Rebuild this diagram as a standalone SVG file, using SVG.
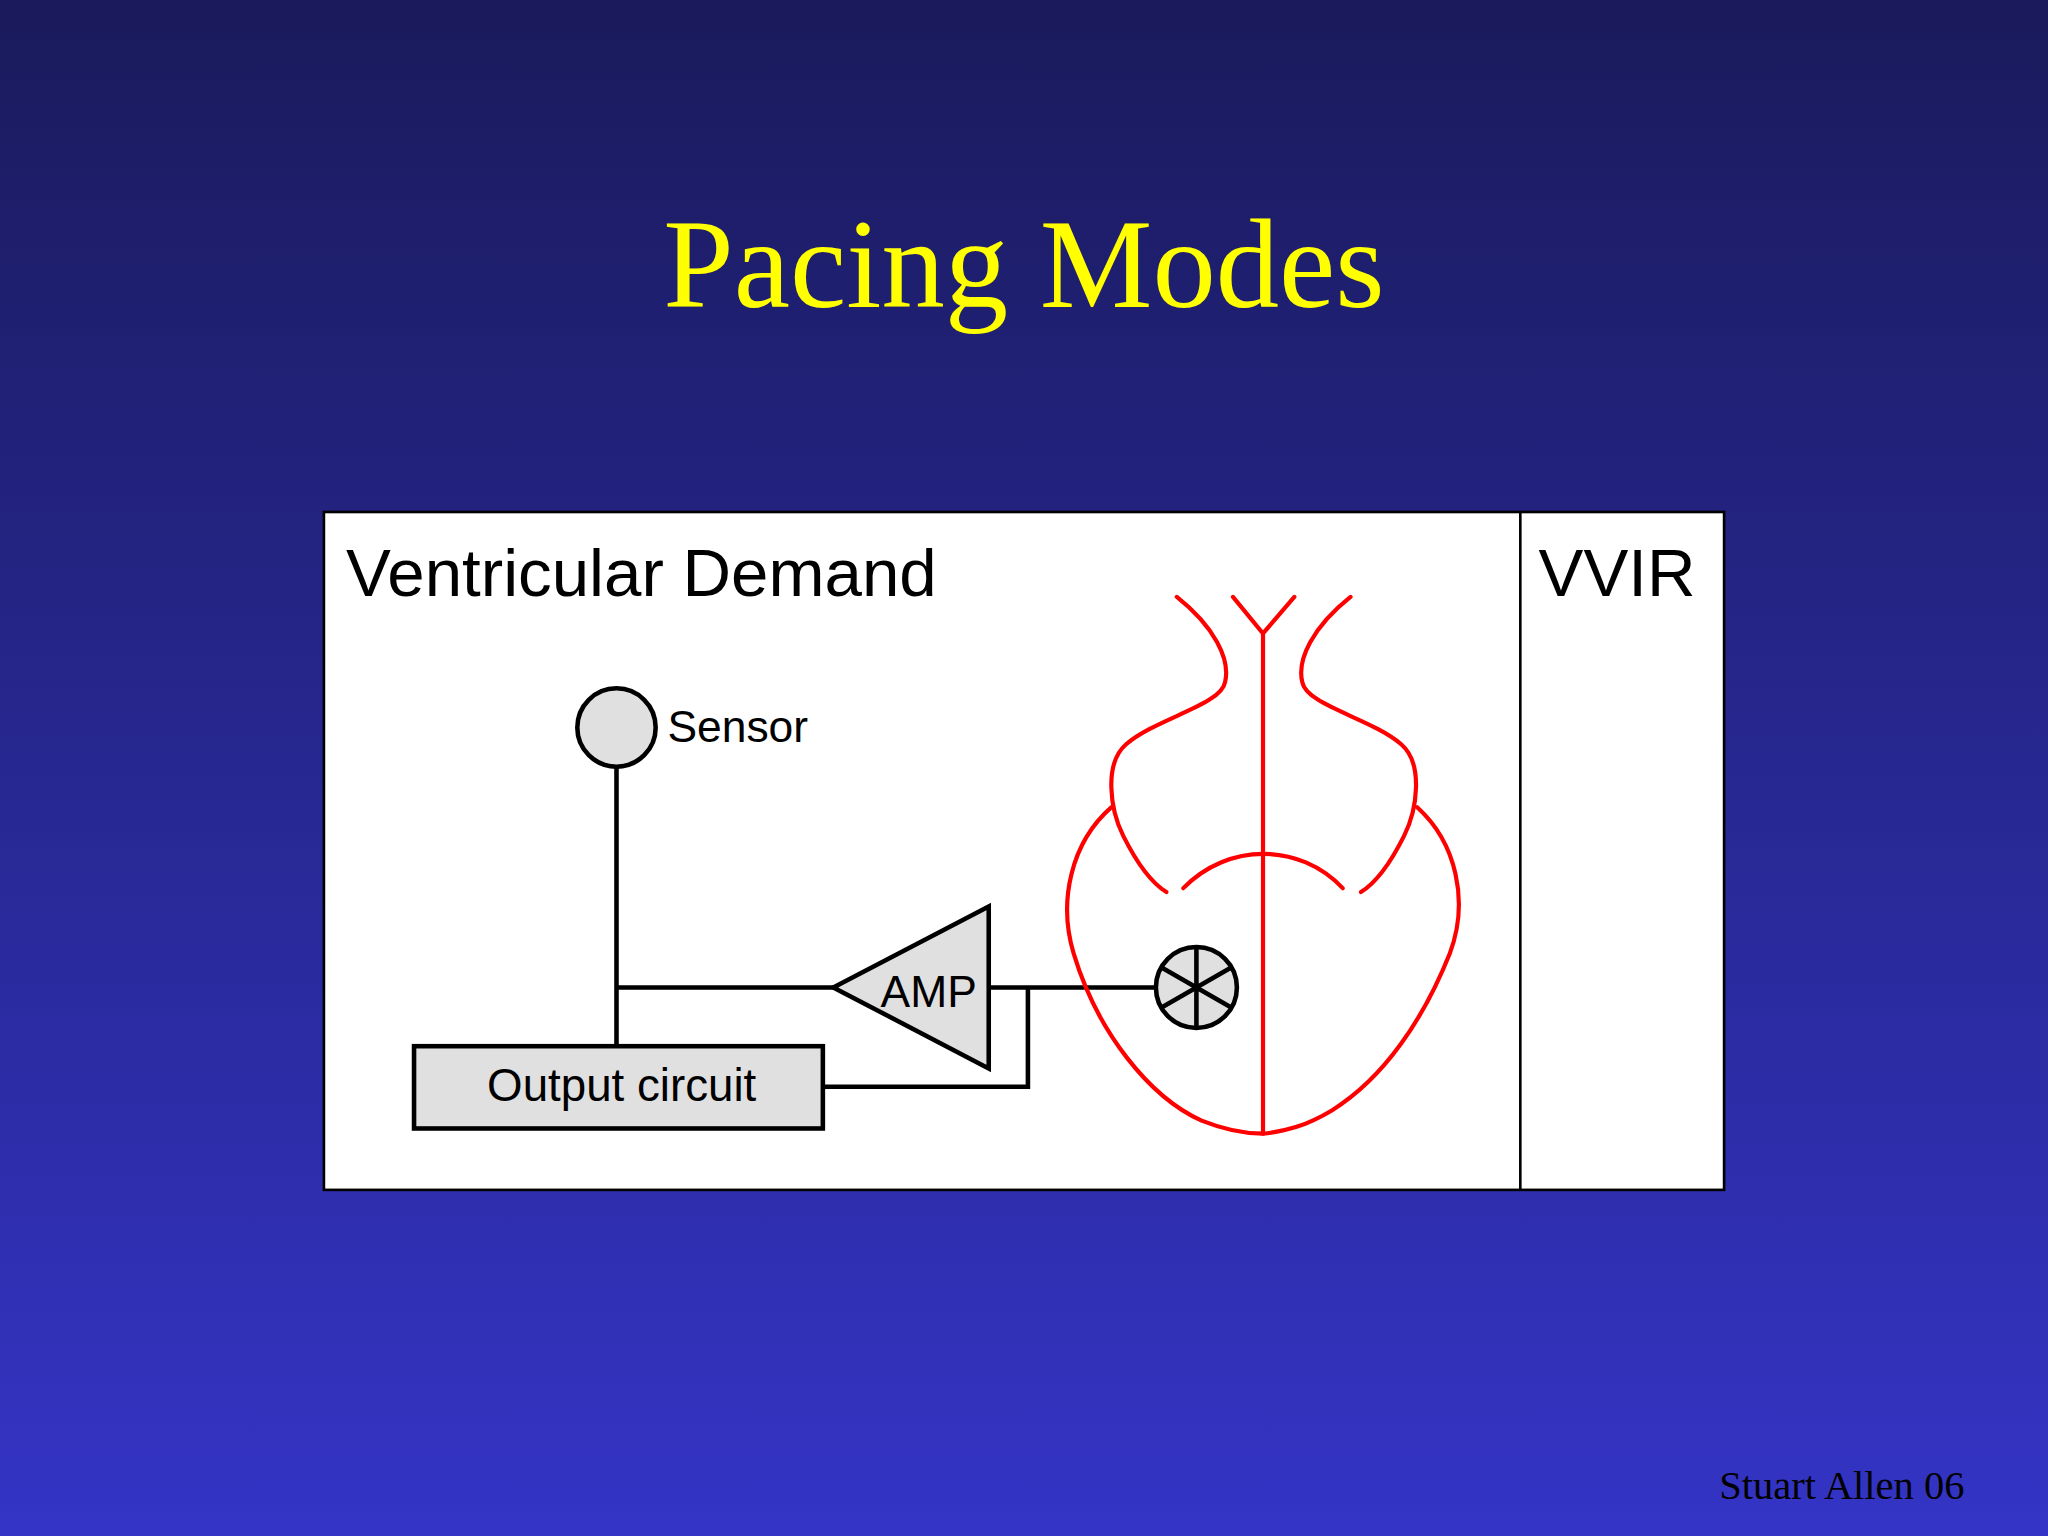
<svg xmlns="http://www.w3.org/2000/svg" width="2048" height="1536" viewBox="0 0 2048 1536">
<defs>
<linearGradient id="bg" x1="0" y1="0" x2="0" y2="1">
<stop offset="0" stop-color="#1a1a5c"/>
<stop offset="1" stop-color="#3434c6"/>
</linearGradient>
<style>
.k{fill:none;stroke:#000;stroke-width:3.5}
.h{fill:none;stroke:#f00;stroke-width:3.2;stroke-linecap:round}
.s{font-family:"Liberation Sans",Arial,sans-serif;fill:#000}
</style>
</defs>
<rect width="2048" height="1536" fill="url(#bg)"/>
<g transform="scale(1.30612)">
<text x="784" y="235" text-anchor="middle" font-family="Liberation Serif,serif" font-size="97" fill="#ffff00">Pacing Modes</text>
<text x="1504" y="1148" text-anchor="end" font-family="Liberation Serif,serif" font-size="31" fill="#000">Stuart Allen 06</text>
<g id="panel">
<rect x="248" y="392" width="1072" height="519" fill="#fff" stroke="#000" stroke-width="2"/>
<line x1="1164" y1="392" x2="1164" y2="911" stroke="#000" stroke-width="2"/>
<text class="s" x="265" y="456" font-size="51.5">Ventricular Demand</text>
<text class="s" x="1178" y="456" font-size="51.5">VVIR</text>
</g>
<g id="connectors">
<path class="k" d="M472 588V801M472 756H638M757 756H885M757 756H787V832H630"/>
</g>
<g id="sensor">
<circle cx="472" cy="557" r="30" fill="#e0e0e0" stroke="#000" stroke-width="3.5"/>
<text class="s" x="511" y="568" font-size="34">Sensor</text>
</g>
<g id="amp">
<polygon points="638,756 757,694 757,818" fill="#e0e0e0" stroke="#000" stroke-width="3.5"/>
<text class="s" x="711" y="771" font-size="34" text-anchor="middle">AMP</text>
</g>
<g id="output">
<rect x="317" y="801" width="313" height="63" fill="#e0e0e0" stroke="#000" stroke-width="3.5"/>
<text class="s" x="476" y="843" font-size="35" text-anchor="middle">Output circuit</text>
</g>
<g id="heart">
<path class="h" d="M967 485V868M944 457L967 485L991 457"/>
<path class="h" d="M901 457C930 480 942 505 938 522C935 540 885 550 862 570C845 585 850 620 860 640C870 660 880 675 893 683"/>
<path class="h" d="M1034 457C1005 480 993 505 997 522C1000 540 1050 550 1073 570C1090 585 1085 620 1075 640C1065 660 1055 675 1042 683"/>
<path class="h" d="M906 680C940 645 995 645 1028 680"/>
<path class="h" d="M851 618C820 645 810 690 822 730C840 790 880 840 920 858C940 866 955 868 967 868C985 866 1000 862 1020 850C1060 825 1090 780 1110 730C1125 690 1115 645 1085 618"/>
</g>
<g id="electrode">
<circle cx="916" cy="756" r="31" fill="#e0e0e0" stroke="#000" stroke-width="3.5"/>
<path class="k" d="M916 725V787M889 740.5L943 771.5M889 771.5L943 740.5"/>
</g>
</g>
</svg>
